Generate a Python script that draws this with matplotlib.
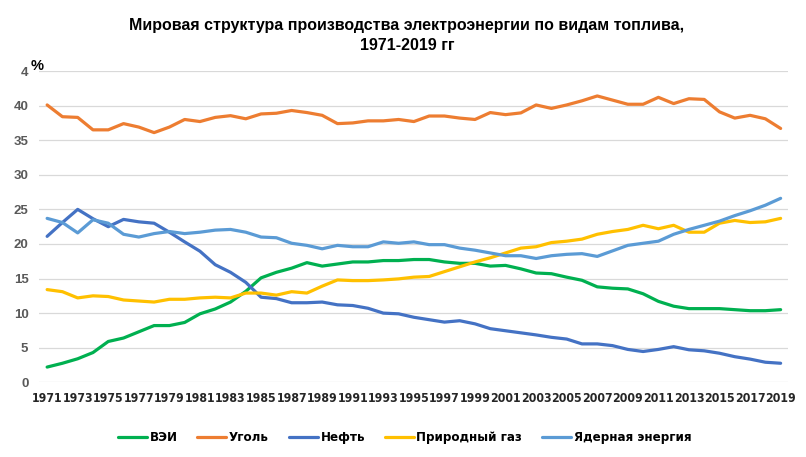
import matplotlib
matplotlib.use("Agg")
import matplotlib.pyplot as plt
import numpy as np

years = list(range(1971, 2020))

vei = [2.2, 2.75, 3.4, 4.3, 5.9, 6.4, 7.3, 8.2, 8.2, 8.65,
       9.9, 10.6, 11.6, 13.15, 15.1, 15.9, 16.5, 17.3, 16.8, 17.1,
       17.4, 17.4, 17.6, 17.6, 17.75, 17.75, 17.4, 17.2, 17.2, 16.8,
       16.9, 16.4, 15.8, 15.7, 15.2, 14.75, 13.8, 13.6, 13.5, 12.8,
       11.7, 11.0, 10.65, 10.65, 10.65, 10.5, 10.35, 10.35, 10.5]

coal = [40.1, 38.4, 38.3, 36.5, 36.5, 37.4, 36.9, 36.1, 36.9, 38.0,
        37.7, 38.3, 38.55, 38.1, 38.8, 38.9, 39.3, 39.0, 38.6, 37.4,
        37.5, 37.8, 37.8, 38.0, 37.7, 38.5, 38.5, 38.2, 38.0, 39.0,
        38.7, 38.95, 40.1, 39.6, 40.1, 40.7, 41.4, 40.8, 40.2, 40.2,
        41.2, 40.3, 41.0, 40.9, 39.1, 38.2, 38.6, 38.1, 36.7]

oil = [21.1, 23.1, 25.0, 23.65, 22.5, 23.55, 23.2, 23.0, 21.7, 20.3,
       18.95, 17.0, 15.9, 14.45, 12.3, 12.1, 11.5, 11.5, 11.6, 11.2,
       11.1, 10.7, 10.0, 9.9, 9.4, 9.05, 8.7, 8.9, 8.45, 7.75,
       7.45, 7.15, 6.85, 6.5, 6.25, 5.55, 5.55, 5.3, 4.75, 4.45,
       4.75, 5.15, 4.7, 4.55, 4.2, 3.7, 3.35, 2.9, 2.75]

gas = [13.4, 13.1, 12.2, 12.5, 12.4, 11.9, 11.75, 11.6, 12.0, 12.0,
       12.2, 12.3, 12.2, 12.9, 12.9, 12.6, 13.1, 12.9, 13.9, 14.8,
       14.7, 14.7, 14.8, 14.95, 15.2, 15.3, 16.0, 16.7, 17.4, 18.0,
       18.7, 19.4, 19.6, 20.2, 20.4, 20.7, 21.4, 21.8, 22.1, 22.7,
       22.2, 22.7, 21.7, 21.7, 23.0, 23.4, 23.1, 23.2, 23.7]

nuclear = [23.7, 23.1, 21.6, 23.5, 23.0, 21.4, 21.0, 21.5, 21.8, 21.5,
           21.7, 22.0, 22.1, 21.7, 21.0, 20.9, 20.1, 19.8, 19.3, 19.8,
           19.6, 19.6, 20.3, 20.1, 20.3, 19.9, 19.9, 19.4, 19.1, 18.7,
           18.3, 18.3, 17.9, 18.3, 18.5, 18.6, 18.2, 19.0, 19.8, 20.1,
           20.4, 21.4, 22.1, 22.7, 23.3, 24.1, 24.8, 25.6, 26.6]

labels = ["ВЭИ", "Уголь", "Нефть", "Природный газ", "Ядерная энергия"]
colors = ["#00B050", "#ED7D31", "#4472C4", "#FFC000", "#5B9BD5"]
series = [vei, coal, oil, gas, nuclear]

y_ticks = [0, 5, 10, 15, 20, 25, 30, 35, 40, 45]
y_tick_labels = ["0", "5", "10", "15", "20", "25", "30", "35", "40", "4"]
x_ticks = years[::2]

title = ("Мировая структура производства электроэнергии по видам топлива,\n"
         "1971-2019 гг")

fig = plt.figure(figsize=(8.06, 4.57), dpi=100)
ax = fig.add_axes([0.049, 0.1635, 0.929, 0.681])

for vals, lab, col in zip(series, labels, colors):
    ax.plot(years, vals, color=col, lw=2.3, label=lab,
            solid_capstyle="round", solid_joinstyle="round")

ax.set_xlim(1970.5, 2019.5)
ax.set_ylim(0, 45)
ax.set_yticks(y_ticks)
ax.set_yticklabels(y_tick_labels)
ax.set_xticks(x_ticks)
ax.set_xticklabels([str(y) for y in x_ticks])

ax.grid(axis="y", color="#D9D9D9", lw=0.9)
ax.set_axisbelow(True)
for s in ax.spines.values():
    s.set_visible(False)
ax.tick_params(length=0)
ax.tick_params(axis="x", pad=7)
ax.tick_params(axis="y", pad=8)

# condensed bold DejaVu for the narrow year labels
for t in ax.get_xticklabels():
    t.set_fontfamily("DejaVu Sans")
    t.set_fontstretch("condensed")
    t.set_fontweight("bold")
    t.set_fontsize(8.8)
    t.set_color("#262626")
for t in ax.get_yticklabels():
    t.set_fontfamily("Liberation Sans")
    t.set_fontweight("bold")
    t.set_fontsize(9.5)
    t.set_color("#595959")

fig.text(0.046, 0.856, "%", fontsize=10.5, fontweight="bold",
         family="Liberation Sans", color="black", ha="center", va="center")

fig.text(0.505, 0.922, title, ha="center", va="center", fontsize=11.5,
         fontweight="bold", family="Liberation Sans",
         linespacing=1.45, color="black")

leg = fig.legend(loc="center", bbox_to_anchor=(0.502, 0.042), ncol=5,
                 frameon=False, handlelength=2.2, handletextpad=0.2,
                 columnspacing=1.5,
                 prop={"family": "DejaVu Sans", "stretch": "condensed",
                       "weight": "bold", "size": 9.5})
for t in leg.get_texts():
    t.set_color("#000000")

fig.savefig("out.png", dpi=100)
